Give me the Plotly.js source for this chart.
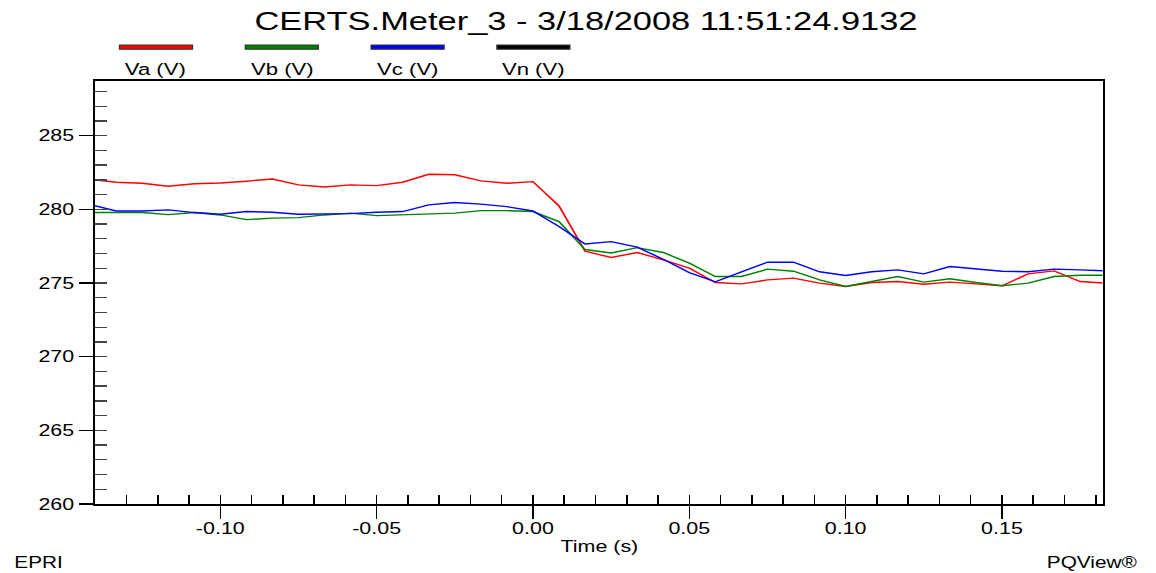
<!DOCTYPE html>
<html>
<head>
<meta charset="utf-8">
<script src="https://cdn.plot.ly/plotly-3.0.1.min.js"></script>
<style>
  html, body { margin: 0; padding: 0; background: #fff; overflow: hidden; }
  #chart { width: 889px; height: 573px; transform: scaleX(1.3003); transform-origin: 0 0; }
</style>
</head>
<body>
<div id="chart"></div>
<script>
// Sample times (s), half-cycle RMS steps
const timeS = [
  -0.14167, -0.13333, -0.12500, -0.11667, -0.10833, -0.10000, -0.09167, -0.08333,
  -0.07500, -0.06667, -0.05833, -0.05000, -0.04167, -0.03333, -0.02500, -0.01667,
  -0.00833, 0.00000, 0.00833, 0.01667, 0.02500, 0.03333, 0.04167, 0.05000,
  0.05833, 0.06667, 0.07500, 0.08333, 0.09167, 0.10000, 0.10833, 0.11667,
  0.12500, 0.13333, 0.14167, 0.15000, 0.15833, 0.16667, 0.17500, 0.18333
];

// Phase voltages (V)
const va = [
  282.04, 281.84, 281.77, 281.57, 281.74, 281.79, 281.91, 282.06,
  281.66, 281.52, 281.66, 281.61, 281.84, 282.38, 282.35, 281.93,
  281.77, 281.88, 280.23, 277.16, 276.73, 277.07, 276.57, 276.01,
  275.03, 274.94, 275.21, 275.33, 274.99, 274.76, 275.03, 275.10,
  274.92, 275.06, 274.94, 274.81, 275.62, 275.82, 275.10, 274.99
];
const vb = [
  279.78, 279.78, 279.78, 279.64, 279.78, 279.62, 279.30, 279.40,
  279.44, 279.62, 279.74, 279.57, 279.62, 279.71, 279.74, 279.91,
  279.91, 279.85, 279.17, 277.27, 277.04, 277.40, 277.07, 276.35,
  275.44, 275.44, 275.94, 275.80, 275.21, 274.76, 275.10, 275.44,
  275.06, 275.29, 275.03, 274.81, 274.99, 275.44, 275.53, 275.53
];
const vc = [
  280.33, 279.89, 279.89, 279.96, 279.78, 279.67, 279.85, 279.80,
  279.67, 279.67, 279.71, 279.80, 279.85, 280.30, 280.46, 280.35,
  280.18, 279.89, 278.83, 277.65, 277.81, 277.43, 276.61, 275.71,
  275.08, 275.76, 276.41, 276.41, 275.76, 275.51, 275.76, 275.89,
  275.62, 276.12, 275.96, 275.80, 275.76, 275.94, 275.89, 275.82
];

const seriesNames = ['Va (V)', 'Vb (V)', 'Vc (V)', 'Vn (V)'];
const seriesColors = ['#ff0000', '#008000', '#0000ff', '#000000'];

const xTickVals = [-0.10, -0.05, 0.00, 0.05, 0.10, 0.15];
const xTickText = ['-0.10', '-0.05', '0.00', '0.05', '0.10', '0.15'];
const yTickVals = [260, 265, 270, 275, 280, 285];

const xRange = [-0.1401, 0.1822];
const yRange = [260, 288.71];

// page geometry (the div is drawn narrow and stretched horizontally)
const STRETCH = 1.3003;
const M = { l: 73, r: 41, t: 81, b: 69 };
const W = 889, H = 573;
const plotW = W - M.l - M.r, plotH = H - M.t - M.b;
const px = X => (X / STRETCH - M.l) / plotW;   // page x -> paper x
const py = Y => (H - M.b - Y) / plotH;          // page y -> paper y

const FONT = 'Liberation Sans, Arial, Helvetica, sans-serif';

const traces = [va, vb, vc].map((v, i) => ({
  type: 'scatter', mode: 'lines', x: timeS, y: v,
  name: seriesNames[i], line: { color: seriesColors[i], width: 1.4 },
  showlegend: false, xaxis: 'x', yaxis: 'y'
}));
// carrier for the inner tick axes
traces.push({ type: 'scatter', mode: 'lines', x: [], y: [], xaxis: 'x2', yaxis: 'y2',
  showlegend: false, hoverinfo: 'skip' });

// hand-built legend: swatch bar above each label
const shapes = [];
const annotations = [];
seriesNames.forEach((name, i) => {
  const cx = 156 + i * 125.8;
  shapes.push({
    type: 'rect', xref: 'paper', yref: 'paper',
    x0: px(cx - 36.5), x1: px(cx + 36.5), y0: py(49.2), y1: py(44.9),
    fillcolor: seriesColors[i], line: { color: '#333333', width: 1 }
  });
  annotations.push({
    xref: 'paper', yref: 'paper', x: px(cx), y: py(69.5), xanchor: 'center', yanchor: 'middle',
    text: name, showarrow: false, font: { family: FONT, size: 17, color: '#000' }
  });
});

annotations.push(
  { xref: 'paper', yref: 'paper', x: 0.5, y: py(546), xanchor: 'center', yanchor: 'middle',
    text: 'Time (s)', showarrow: false, font: { family: FONT, size: 16.5, color: '#000' } },
  { xref: 'paper', yref: 'paper', x: px(12), y: py(562), xanchor: 'left', yanchor: 'middle',
    text: 'EPRI', showarrow: false, font: { family: FONT, size: 16, color: '#000' } },
  { xref: 'paper', yref: 'paper', x: px(1141), y: py(562), xanchor: 'right', yanchor: 'middle',
    text: 'PQView®', showarrow: false, font: { family: FONT, size: 16, color: '#000' } }
);

const layout = {
  width: W, height: H,
  margin: M,
  paper_bgcolor: '#ffffff', plot_bgcolor: '#ffffff',
  showlegend: false,
  font: { family: FONT, color: '#000' },
  title: {
    text: 'CERTS.Meter_3 - 3/18/2008 11:51:24.9132',
    xref: 'container', yref: 'container', x: (586 / STRETCH) / W, y: 1 - 20.5 / H,
    xanchor: 'center', yanchor: 'middle',
    font: { family: FONT, size: 26.5, color: '#000' }
  },
  xaxis: {
    range: xRange, showgrid: false, zeroline: false,
    showline: true, linecolor: '#000', linewidth: 2, mirror: true,
    tickvals: xTickVals, ticktext: xTickText,
    ticks: 'outside', ticklen: 13, tickwidth: 1.2, tickcolor: '#000',
    ticklabelstandoff: -5,
    tickfont: { family: FONT, size: 16.5, color: '#000' }
  },
  yaxis: {
    range: yRange, showgrid: false, zeroline: false,
    showline: true, linecolor: '#000', linewidth: 1.6, mirror: true,
    tickvals: yTickVals,
    ticks: 'outside', ticklen: 11, tickwidth: 1.3, tickcolor: '#000',
    tickfont: { family: FONT, size: 16.5, color: '#000' }
  },
  xaxis2: {
    overlaying: 'x', anchor: 'y2', side: 'bottom', range: xRange,
    showgrid: false, zeroline: false, showline: false, showticklabels: false,
    tick0: 0, dtick: 0.01, ticks: 'inside', ticklen: 9, tickwidth: 1.2, tickcolor: '#000'
  },
  yaxis2: {
    overlaying: 'y', anchor: 'x2', side: 'left', range: yRange,
    showgrid: false, zeroline: false, showline: false, showticklabels: false,
    tick0: 0, dtick: 1, ticks: 'inside', ticklen: 9, tickwidth: 1.3, tickcolor: '#444'
  },
  shapes: shapes,
  annotations: annotations
};

Plotly.newPlot('chart', traces, layout, { staticPlot: true, displayModeBar: false });
</script>
</body>
</html>
